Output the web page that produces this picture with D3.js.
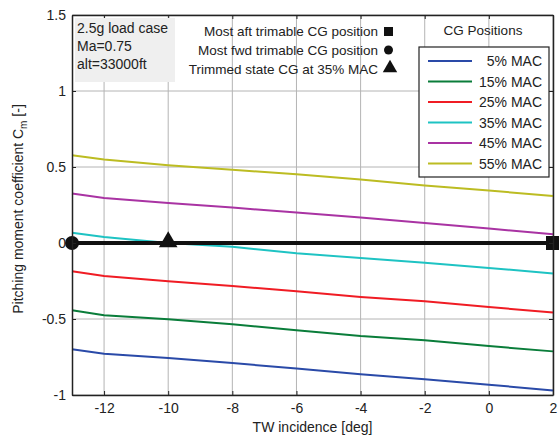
<!DOCTYPE html>
<html>
<head>
<meta charset="utf-8">
<script src="https://cdn.jsdelivr.net/npm/d3@7"></script>
<style>
  body { margin: 0; background: #fff; }
  svg { font-family: "Liberation Sans", Arial, sans-serif; }
</style>
</head>
<body>
<svg id="chart" width="559" height="437"></svg>
<script>
const margin = {top: 15, right: 6, bottom: 42, left: 72};
const width = 559 - margin.left - margin.right;
const height = 437 - margin.top - margin.bottom;

// TW incidence [deg]
const incidence = [-13, -12, -10, -8, -6, -4, -2, 0, 2];

const cgLabels = ["5% MAC", "15% MAC", "25% MAC", "35% MAC", "45% MAC", "55% MAC"];
const cgColors = ["#2a4aa8", "#0a7d3a", "#f01c24", "#1ec3c3", "#a933a3", "#bcbc22"];

const cm5  = [-0.699, -0.728, -0.757, -0.790, -0.826, -0.864, -0.897, -0.932, -0.970];
const cm15 = [-0.443, -0.476, -0.502, -0.535, -0.574, -0.612, -0.640, -0.678, -0.713];
const cm25 = [-0.186, -0.217, -0.252, -0.283, -0.318, -0.355, -0.384, -0.421, -0.458];
const cm35 = [0.068, 0.040, 0.000, -0.025, -0.068, -0.099, -0.130, -0.164, -0.200];
const cm45 = [0.325, 0.296, 0.263, 0.233, 0.200, 0.168, 0.132, 0.095, 0.057];
const cm55 = [0.577, 0.549, 0.512, 0.482, 0.452, 0.418, 0.378, 0.345, 0.310];
const cmSeries = [cm5, cm15, cm25, cm35, cm45, cm55];

// trim markers (x, Cm)
const fwdCG = [-13, 0];
const trimCG = [-10, 0];
const aftCG = [2, 0];

const xTicks = [-12, -10, -8, -6, -4, -2, 0, 2];
const yTicks = [-1, -0.5, 0, 0.5, 1, 1.5];

const infoLines = ["2.5g load case", "Ma=0.75", "alt=33000ft"];
const markerLabels = ["Most aft trimable CG position", "Most fwd trimable CG position", "Trimmed state CG at 35% MAC"];

const svg = d3.select("#chart");
const g = svg.append("g").attr("transform", `translate(${margin.left},${margin.top})`);

const x = d3.scaleLinear().domain([-13, 2]).range([0, width]);
const y = d3.scaleLinear().domain([-1, 1.5]).range([height, 0]);

// grid
g.append("g").selectAll("line").data(xTicks).join("line")
  .attr("x1", d => x(d)).attr("x2", d => x(d))
  .attr("y1", 0).attr("y2", height)
  .attr("stroke", "#b4b4b4").attr("stroke-width", 1);
g.append("g").selectAll("line").data(yTicks).join("line")
  .attr("x1", 0).attr("x2", width)
  .attr("y1", d => y(d)).attr("y2", d => y(d))
  .attr("stroke", "#b4b4b4").attr("stroke-width", 1);

// curves
const line = d3.line().x((d, i) => x(incidence[i])).y(d => y(d));
g.selectAll(".cg").data(cmSeries).join("path")
  .attr("class", "cg")
  .attr("d", d => line(d))
  .attr("fill", "none")
  .attr("stroke", (d, i) => cgColors[i])
  .attr("stroke-width", 2);

// zero trim line
g.append("line")
  .attr("x1", x(fwdCG[0])).attr("x2", x(aftCG[0]))
  .attr("y1", y(0)).attr("y2", y(0))
  .attr("stroke", "#111").attr("stroke-width", 4);

g.append("circle").attr("cx", x(fwdCG[0])).attr("cy", y(fwdCG[1])).attr("r", 7).attr("fill", "#111");
g.append("path")
  .attr("d", d3.symbol(d3.symbolTriangle, 150)())
  .attr("transform", `translate(${x(trimCG[0])},${y(trimCG[1]) - 1})`)
  .attr("fill", "#111");
g.append("rect")
  .attr("x", x(aftCG[0]) - 7).attr("y", y(aftCG[1]) - 7)
  .attr("width", 14).attr("height", 14).attr("fill", "#111");

// axes with inward ticks, plain hyphen minus like the original
const fmt = d => String(d);
const xAxis = d3.axisBottom(x).tickValues(xTicks).tickSizeInner(-4).tickSizeOuter(0).tickPadding(8).tickFormat(fmt);
const yAxis = d3.axisLeft(y).tickValues(yTicks).tickSizeInner(-4).tickSizeOuter(0).tickPadding(6).tickFormat(fmt);

g.append("g").attr("transform", `translate(0,${height})`).call(xAxis)
  .call(a => a.selectAll("text").attr("font-size", 14).attr("fill", "#222"));
g.append("g").call(yAxis)
  .call(a => a.selectAll("text").attr("font-size", 14).attr("fill", "#222"));
g.append("g").call(d3.axisTop(x).tickValues(xTicks).tickSizeInner(-4).tickSizeOuter(0).tickFormat(""));
g.append("g").attr("transform", `translate(${width},0)`)
  .call(d3.axisRight(y).tickValues(yTicks).tickSizeInner(-4).tickSizeOuter(0).tickFormat(""));
g.selectAll(".domain").attr("stroke", "#222").attr("stroke-width", 1.5);
g.selectAll(".tick line").attr("stroke", "#222");

// info box
g.append("rect").attr("x", 3).attr("y", 3).attr("width", 100).attr("height", 64).attr("fill", "#efefef");
g.append("g").selectAll("text").data(infoLines).join("text")
  .attr("x", 5).attr("y", (d, i) => 18 + i * 18)
  .attr("font-size", 14).attr("fill", "#222")
  .text(d => d);

// marker legend
const mk = g.append("g");
mk.selectAll("text").data(markerLabels).join("text")
  .attr("x", 306).attr("y", (d, i) => 21 + i * 19)
  .attr("text-anchor", "end").attr("font-size", 13.5).attr("fill", "#222")
  .text(d => d);
mk.append("rect").attr("x", 312).attr("y", 12).attr("width", 9).attr("height", 9).attr("fill", "#111");
mk.append("circle").attr("cx", 316.5).attr("cy", 35).attr("r", 4.5).attr("fill", "#111");
mk.append("path").attr("d", d3.symbol(d3.symbolTriangle, 90)())
  .attr("transform", "translate(318,53)").attr("fill", "#111");

// CG positions legend
const lx = 347, ly = 32;
g.append("text").attr("x", lx + 64).attr("y", 20)
  .attr("text-anchor", "middle").attr("font-size", 13.5).attr("fill", "#222")
  .text("CG Positions");
const leg = g.append("g").attr("transform", `translate(${lx},${ly})`);
leg.append("rect").attr("width", 130).attr("height", 130)
  .attr("fill", "#fff").attr("stroke", "#222").attr("stroke-width", 1.2);
const item = leg.selectAll(".item").data(cgLabels).join("g")
  .attr("class", "item")
  .attr("transform", (d, i) => `translate(0,${14 + i * 20.5})`);
item.append("line").attr("x1", 9).attr("x2", 53)
  .attr("stroke", (d, i) => cgColors[i]).attr("stroke-width", 2);
item.append("text").attr("x", 123).attr("y", 5)
  .attr("text-anchor", "end").attr("font-size", 14).attr("fill", "#222")
  .text(d => d);

// axis titles
svg.append("text")
  .attr("x", margin.left + x(-5.5)).attr("y", 432)
  .attr("text-anchor", "middle").attr("font-size", 14).attr("fill", "#222")
  .text("TW incidence [deg]");

const yl = svg.append("text")
  .attr("transform", `translate(23,${margin.top + height / 2 + 4}) rotate(-90)`)
  .attr("text-anchor", "middle").attr("font-size", 14).attr("fill", "#222");
yl.append("tspan").text("Pitching moment coefficient C");
yl.append("tspan").attr("font-size", 10).attr("dy", 4).text("m");
yl.append("tspan").attr("dy", -4).text(" [-]");
</script>
</body>
</html>
